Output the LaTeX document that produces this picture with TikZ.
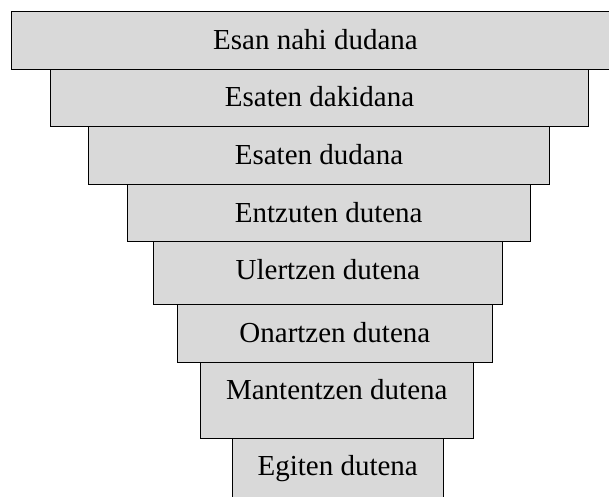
\documentclass[tikz,border=0pt]{standalone}
\usepackage{fontspec}
\setmainfont{Liberation Serif}
\definecolor{boxgray}{RGB}{217,217,217}
\tikzset{
  tier/.style={draw=black, fill=boxgray, line width=1pt, inner xsep=0pt, inner ysep=0pt,
    text height=37.5pt, anchor=north west, font=\fontsize{29}{34}\selectfont}
}
\begin{document}
\begin{tikzpicture}[x=1pt,y=-1pt]
\useasboundingbox (0,0) rectangle (609,496);
\clip (0,0) rectangle (609,496);
\node[tier, minimum width=608pt, text depth=20.2pt] (t1) at (11,11) {Esan nahi dudana};
\node[tier, minimum width=538pt, text depth=19.8pt] (t2) at (50,68.7) {Esaten dakidana};
\node[tier, minimum width=461pt, text depth=20.5pt] (t3) at (88,126) {Esaten dudana};
\node[tier, minimum width=403.5pt, text depth=19.8pt] (t4) at (126.5,184) {Entzuten dutena};
\node[tier, minimum width=348.7pt, text depth=25.2pt] (t5) at (153,241.3) {Ulertzen dutena};
\node[tier, minimum width=314.7pt, text depth=20.2pt] (t6) at (177,304) {Onartzen dutena};
\node[tier, minimum width=272.5pt, text depth=38.5pt] (t7) at (200,361.7) {Mantentzen dutena};
\node[tier, minimum width=211pt, text depth=24.8pt] (t8) at (231.7,437.7) {Egiten dutena};
\end{tikzpicture}
\end{document}
